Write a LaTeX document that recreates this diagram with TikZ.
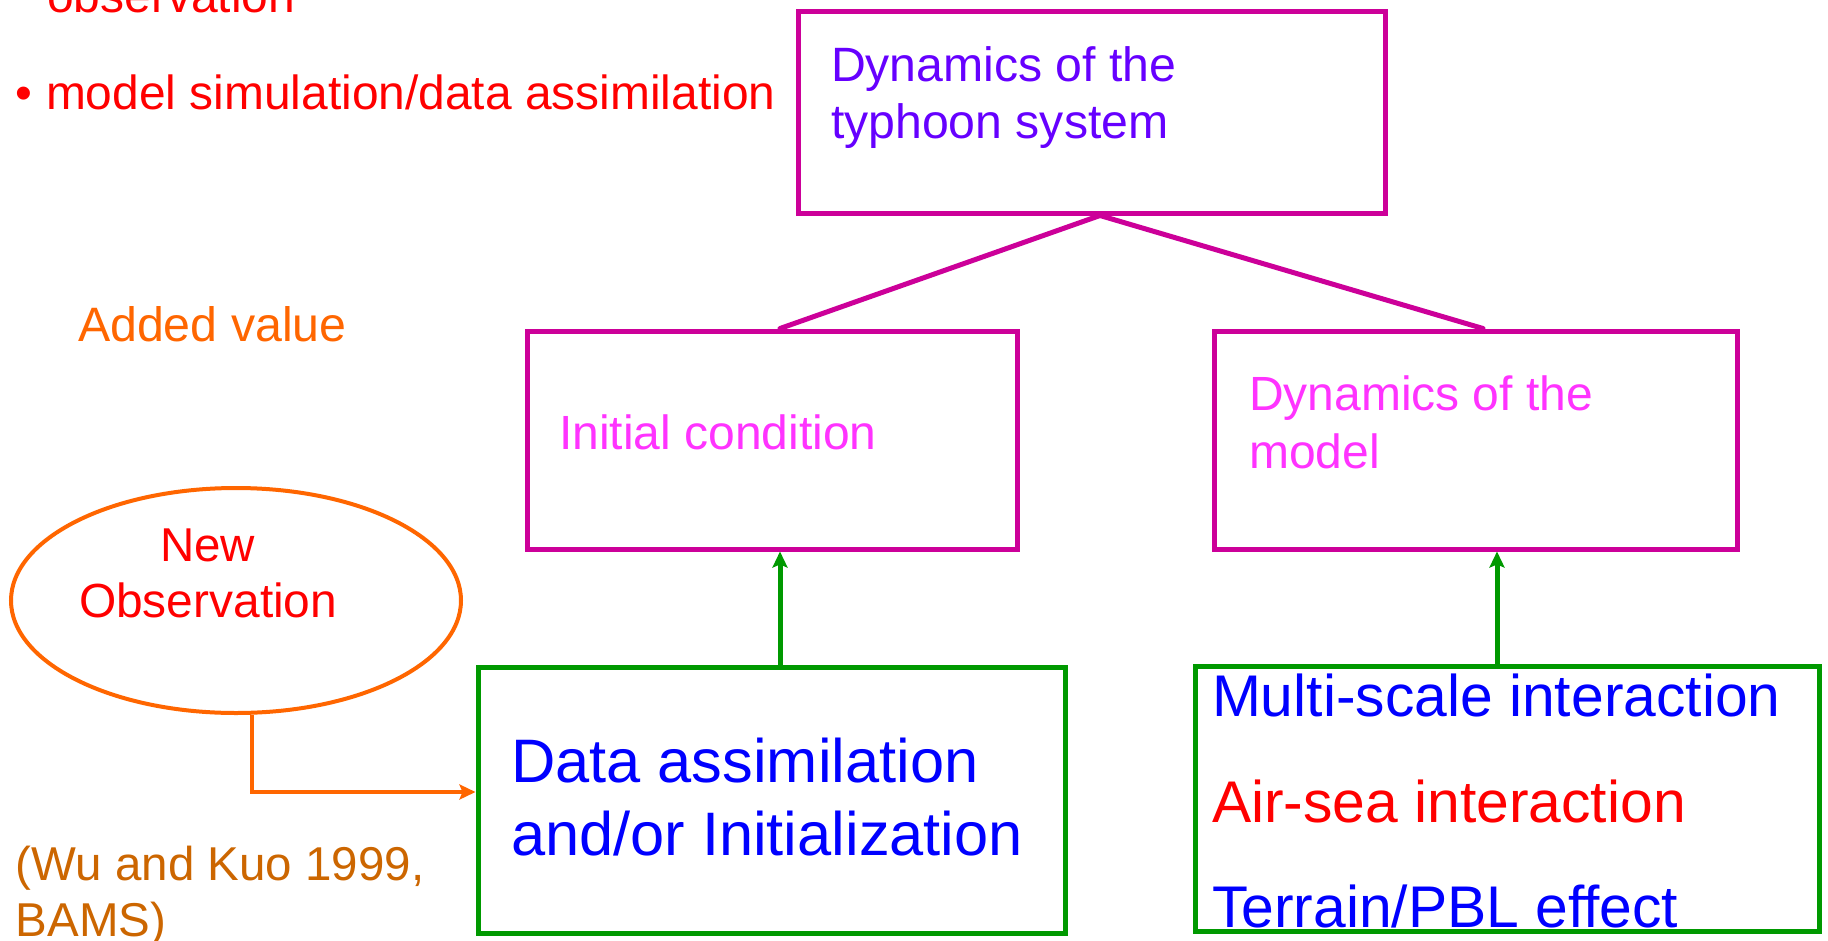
\documentclass[tikz,border=0pt]{standalone}
\usepackage{fontspec}
\setmainfont{Liberation Sans}
\usetikzlibrary{arrows.meta,shapes.geometric}
\definecolor{pinkline}{RGB}{204,0,153}
\definecolor{purpletxt}{RGB}{102,0,255}
\definecolor{pinktxt}{RGB}{255,51,255}
\definecolor{greenline}{RGB}{0,153,0}
\definecolor{bluetxt}{RGB}{0,0,255}
\definecolor{redtxt}{RGB}{255,0,0}
\definecolor{orangeline}{RGB}{255,102,0}
\definecolor{browntxt}{RGB}{204,102,0}
\begin{document}
\begin{tikzpicture}[x=1pt,y=-1pt,
  pbox/.style={draw=pinkline, rectangle, line width=5pt, inner sep=0pt},
  gbox/.style={draw=greenline, rectangle, line width=5pt, inner sep=0pt},
  txt/.style={anchor=base west, inner sep=0pt, outer sep=0pt},
  fs/.style={font=\fontsize{#1}{#1}\selectfont},
  pline/.style={draw=pinkline, line width=5pt},
  garrow/.style={draw=greenline, line width=5pt, -{Stealth[length=16pt,width=15pt,inset=3pt]}},
  oarrow/.style={draw=orangeline, line width=4pt, -{Stealth[length=16pt,width=15pt,inset=3pt]}}]
\clip (0,0) rectangle (1828,940);
\fill[white] (0,0) rectangle (1828,940);

% boxes
\node[pbox, minimum width=587pt, minimum height=202pt] (top) at (1091.5,112) {};
\node[pbox, minimum width=490pt, minimum height=218pt] (init) at (772,440) {};
\node[pbox, minimum width=523pt, minimum height=218pt] (model) at (1475.5,440) {};
\node[gbox, minimum width=587.5pt, minimum height=266pt] (data) at (771.75,800) {};
\node[gbox, minimum width=624pt, minimum height=265pt] (multi) at (1507,798.5) {};
\node[draw=orangeline, ellipse, line width=4pt, inner sep=0pt, minimum width=450pt, minimum height=225pt] (obs) at (236,600.5) {};

% connectors
\coordinate (jt) at (1100,213);
\coordinate (jl) at (780,0);
\coordinate (jr) at (1483,0);
\coordinate (ar) at (1497,0);
\coordinate (oc) at (252,792);
\draw[pline, line cap=round] (top.south -| jt) -- (init.north -| jl);
\draw[pline, line cap=round] (top.south -| jt) -- (model.north -| jr);
\draw[garrow] (data.north -| jl) -- (init.south -| jl);
\draw[garrow] (multi.north -| ar) -- (model.south -| ar);
\draw[oarrow] (obs.south -| oc) -- (oc) -- (data.west |- oc);

% texts
\node[txt, fs=48, text=redtxt] (t1) at (47,12) {observation};
\node[txt, fs=48, text=redtxt] (t2b) at (16,109) {•};
\node[txt, fs=47.9, text=redtxt] (t2) at (46,109) {model simulation/data assimilation};
\node[txt, fs=48.3, text=orangeline] (t3) at (78,341) {Added value};
\node[txt, fs=48.2, text=purpletxt] (t4) at (831,81) {Dynamics of the};
\node[txt, fs=48.2, text=purpletxt] (t5) at (831,138) {typhoon system};
\node[txt, fs=48, text=pinktxt] (t6) at (559,449) {Initial condition};
\node[txt, fs=48, text=pinktxt] (t7) at (1249,410) {Dynamics of the};
\node[txt, fs=48, text=pinktxt] (t8) at (1249,468) {model};
\node[txt, fs=47.5, text=redtxt] (t9) at (160,561) {New};
\node[txt, fs=47.9, text=redtxt] (t10) at (79,617) {Observation};
\node[txt, fs=61.4, text=bluetxt] (t11) at (511,782) {Data assimilation};
\node[txt, fs=61.4, text=bluetxt] (t12) at (511,855) {and/or Initialization};
\node[txt, fs=58.8, text=bluetxt] (t13) at (1212,716) {Multi-scale interaction};
\node[txt, fs=58.8, text=redtxt] (t14) at (1212,822) {Air-sea interaction};
\node[txt, fs=58.8, text=bluetxt] (t15) at (1212,927) {Terrain/PBL effect};
\node[txt, fs=47.5, text=browntxt] (t16) at (16,880) {(Wu and Kuo 1999,};
\node[txt, fs=47.5, text=browntxt] (t17) at (16,936) {BAMS)};
\end{tikzpicture}
\end{document}
